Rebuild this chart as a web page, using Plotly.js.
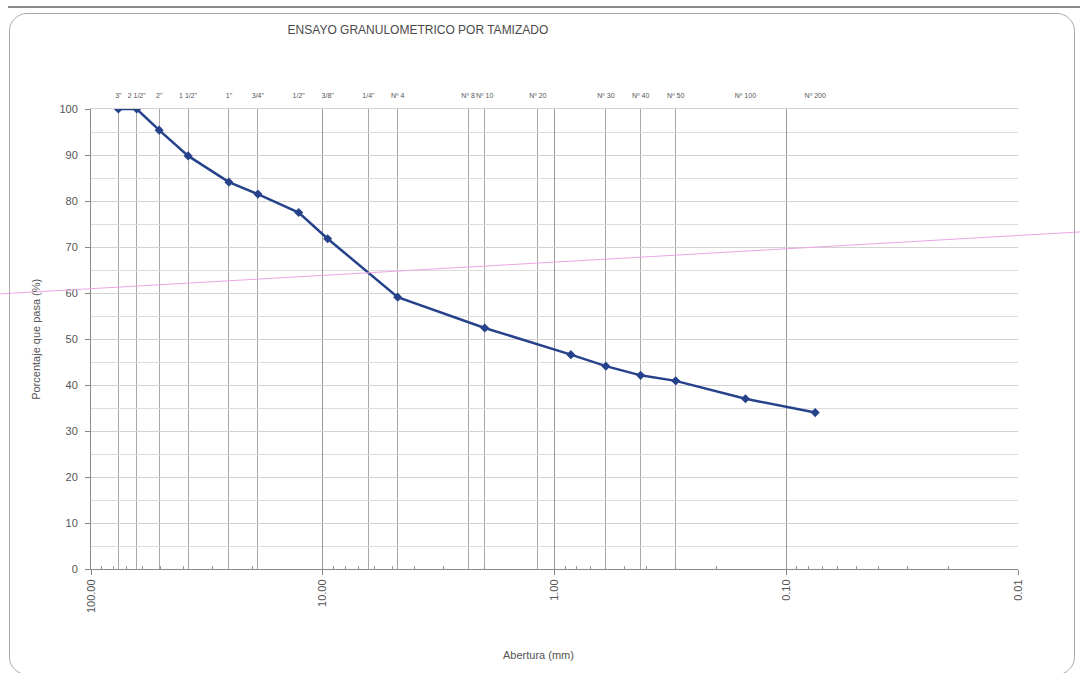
<!DOCTYPE html>
<html>
<head>
<meta charset="utf-8">
<script src="https://cdn.plot.ly/plotly-3.0.1.min.js"></script>
<style>
  html, body { margin: 0; padding: 0; background: #fff; }
  #wrap { position: relative; width: 1080px; height: 673px; overflow: hidden; }
  #chart { width: 1080px; height: 673px; }
  #frame { position: absolute; left: 9px; top: 13px; width: 1066px; height: 662px;
           border: 1.5px solid #a8a8a8; border-radius: 18px; pointer-events: none; box-sizing: border-box; }
  #topline { position: absolute; left: 8px; top: 6px; width: 1072px; height: 2px; background: #8a8a8a; pointer-events: none; }
</style>
</head>
<body>
<div id="wrap">
  <div id="chart"></div>
  <div id="topline"></div>
  <div id="frame"></div>
</div>
<script>
// Grain size data (abertura en mm vs porcentaje que pasa)
const aberturaMm = [76.2, 63.5, 50.8, 38.1, 25.4, 19.05, 12.7, 9.525, 4.75, 2.0, 0.85, 0.6, 0.425, 0.3, 0.15, 0.075];
const porcentajePasa = [100, 100, 95.4, 89.8, 84.1, 81.5, 77.5, 71.8, 59.1, 52.4, 46.6, 44.1, 42.1, 40.9, 37.0, 34.0];

// Sieve labels along the top
const tamizLabels = ['3"', '2 1/2"', '2"', '1 1/2"', '1"', '3/4"', '1/2"', '3/8"', '1/4"', 'Nº 4', 'Nº 8', 'Nº 10', 'Nº 20', 'Nº 30', 'Nº 40', 'Nº 50', 'Nº 100', 'Nº 200'];
const tamizPos = [76.2, 63.5, 50.8, 38.1, 25.4, 19.05, 12.7, 9.525, 6.35, 4.75, 2.36, 2.0, 1.18, 0.6, 0.425, 0.3, 0.15, 0.075];

// Vertical sieve grid lines drawn in the template
const tamizGrid = [76.2, 63.5, 50.8, 38.1, 25.4, 19.05, 6.35, 4.75, 2.36, 2.0, 1.18, 0.6, 0.425, 0.3];

// Bottom axis labels
const xTickVals = [100, 10, 1, 0.1, 0.01];
const xTickText = ['100.00', '10.00', '1.00', '0.10', '0.01'];

const FONT = 'Liberation Sans, Arial, sans-serif';

const traces = [
  {
    x: aberturaMm, y: porcentajePasa, type: 'scatter', mode: 'lines+markers',
    line: {color: '#26428a', width: 2.5},
    marker: {symbol: 'diamond', size: 7, color: '#26428a'},
    showlegend: false, hoverinfo: 'x+y'
  },
  { x: aberturaMm, y: porcentajePasa, xaxis: 'x2', type: 'scatter', mode: 'none', showlegend: false, hoverinfo: 'skip' },
  { x: aberturaMm, y: porcentajePasa, xaxis: 'x3', type: 'scatter', mode: 'none', showlegend: false, hoverinfo: 'skip' }
];

const layout = {
  width: 1080, height: 673,
  margin: {l: 91, r: 62, t: 109, b: 104},
  paper_bgcolor: 'rgba(0,0,0,0)', plot_bgcolor: '#fff',
  font: {family: FONT, color: '#555'},
  title: {
    text: 'ENSAYO GRANULOMETRICO POR TAMIZADO',
    font: {family: FONT, size: 12, color: '#4a4a4a'},
    x: 0.387, xref: 'container', xanchor: 'center',
    y: 0.955, yref: 'container', yanchor: 'middle'
  },
  xaxis: {
    type: 'log', range: [2, -2],
    tickmode: 'array', tickvals: xTickVals, ticktext: xTickText,
    tickangle: -90, tickfont: {family: FONT, size: 11, color: '#555'},
    ticks: 'outside', ticklen: 5, tickcolor: '#888',
    showline: true, linecolor: '#8a8a8a', linewidth: 1,
    showgrid: true, gridcolor: '#9a9a9a', gridwidth: 1,
    minor: {tickmode: 'array', tickvals: tamizGrid, showgrid: true, gridcolor: '#a8a8a8', gridwidth: 1, ticks: ''},
    zeroline: false
  },
  xaxis3: {
    type: 'log', range: [2, -2], overlaying: 'x', anchor: 'y', side: 'bottom',
    dtick: 'D1', ticks: 'inside', ticklen: 3, tickcolor: '#999',
    showticklabels: false, showgrid: false, showline: false, zeroline: false
  },
  xaxis2: {
    type: 'log', range: [2, -2], overlaying: 'x', anchor: 'y', side: 'top',
    tickmode: 'array', tickvals: tamizPos, ticktext: tamizLabels,
    tickangle: 0, tickfont: {family: FONT, size: 7, color: '#555'},
    ticks: '', ticklabelstandoff: 7,
    showgrid: false, showline: true, linecolor: '#d2d2d2', linewidth: 1, zeroline: false
  },
  yaxis: {
    range: [0, 100], dtick: 10, tick0: 0,
    tickfont: {family: FONT, size: 11, color: '#555'},
    ticks: 'outside', ticklen: 5, tickcolor: '#888', ticklabelstandoff: 5,
    showline: true, linecolor: '#8a8a8a', linewidth: 1,
    showgrid: true, gridcolor: '#d2d2d2', gridwidth: 1,
    minor: {dtick: 5, showgrid: true, gridcolor: '#dcdcdc', gridwidth: 1, ticks: ''},
    zeroline: false
  },
  annotations: [
    {
      text: 'Porcentaje que pasa (%)', xref: 'paper', yref: 'paper',
      x: -0.0595, y: 0.5, xanchor: 'center', yanchor: 'middle', textangle: -90,
      showarrow: false, font: {family: FONT, size: 11, color: '#555'}
    },
    {
      text: 'Abertura (mm)', xref: 'paper', yref: 'paper',
      x: 0.483, y: -0.187, xanchor: 'center', yanchor: 'middle',
      showarrow: false, font: {family: FONT, size: 11, color: '#555'}
    }
  ],
  shapes: [
    {
      type: 'line', xref: 'paper', yref: 'paper',
      x0: -0.0984, y0: 0.598, x1: 1.0692, y1: 0.733,
      line: {color: '#eaa6e4', width: 1}, layer: 'above'
    }
  ]
};

Plotly.newPlot('chart', traces, layout, {displayModeBar: false, staticPlot: true});
</script>
</body>
</html>
